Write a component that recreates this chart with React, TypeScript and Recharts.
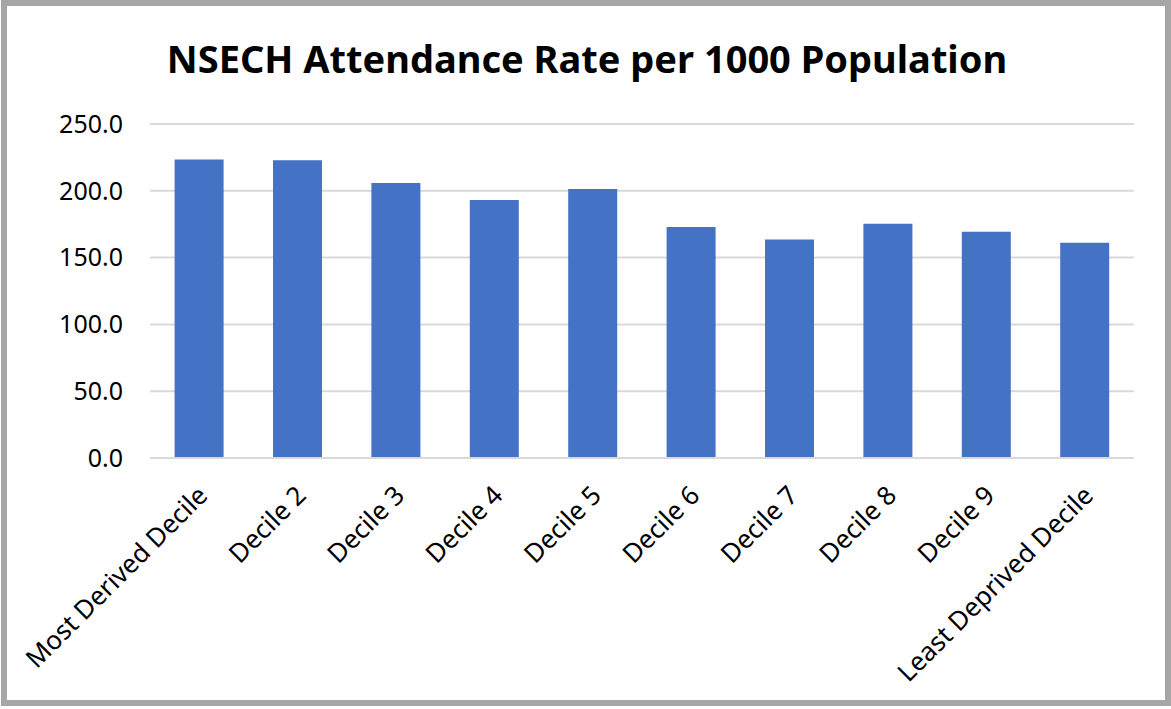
import * as React from "react";
import { BarChart, Bar, XAxis, YAxis, CartesianGrid } from "recharts";

const categories = [
  "Most Derived Decile",
  "Decile 2",
  "Decile 3",
  "Decile 4",
  "Decile 5",
  "Decile 6",
  "Decile 7",
  "Decile 8",
  "Decile 9",
  "Least Deprived Decile",
];
const rates = [223.4, 222.9, 205.8, 193.2, 201.3, 172.9, 163.6, 175.4, 169.3, 161.2];
const yTicks = [0, 50, 100, 150, 200, 250];

const chartData = categories.map((name, i) => ({ name, rate: rates[i] }));

const FONT = "'Noto Sans', 'Open Sans', sans-serif";

// rotated category labels, text end hooked just right of each bar centre
const CategoryTick = (props: any) => {
  const { x, y, payload } = props;
  const ax = x + 10;
  const ay = y + 31;
  return (
    <text
      x={ax}
      y={ay}
      transform={`rotate(-45 ${ax} ${ay})`}
      textAnchor="end"
      fontFamily={FONT}
      fontSize={26}
      fill="#000"
    >
      {payload.value}
    </text>
  );
};

export default function App() {
  return (
    <div style={{ position: "absolute", left: 0, top: 0, width: 1171, height: 709, background: "#fff" }}>
      <div
        style={{
          position: "absolute",
          left: 1,
          top: 0,
          width: 1170,
          height: 706,
          boxSizing: "border-box",
          border: "6px solid #a6a6a6",
        }}
      />
      <svg width={1171} height={100} style={{ position: "absolute", left: 0, top: 0 }}>
        <text x={587} y={73} textAnchor="middle" fontFamily={FONT} fontWeight={700} fontSize={38} fill="#000">
          NSECH Attendance Rate per 1000 Population
        </text>
      </svg>
      <div style={{ position: "absolute", left: 0, top: 0 }}>
        <BarChart
          width={1171}
          height={709}
          data={chartData}
          margin={{ top: 124, right: 37, left: 0, bottom: 0 }}
          barCategoryGap="25%"
        >
          <CartesianGrid vertical={false} stroke="#d9d9d9" strokeWidth={2} />
          <XAxis
            dataKey="name"
            height={251}
            interval={0}
            tickLine={false}
            axisLine={{ stroke: "#d9d9d9", strokeWidth: 2 }}
            tick={<CategoryTick />}
          />
          <YAxis
            width={150}
            domain={[0, 250]}
            ticks={yTicks}
            axisLine={false}
            tickLine={false}
            tickMargin={21}
            tickFormatter={(v: number) => v.toFixed(1)}
            tick={{ fontFamily: FONT, fontSize: 25, fill: "#000" }}
          />
          <Bar dataKey="rate" fill="#4472c4" isAnimationActive={false} />
        </BarChart>
      </div>
    </div>
  );
}
